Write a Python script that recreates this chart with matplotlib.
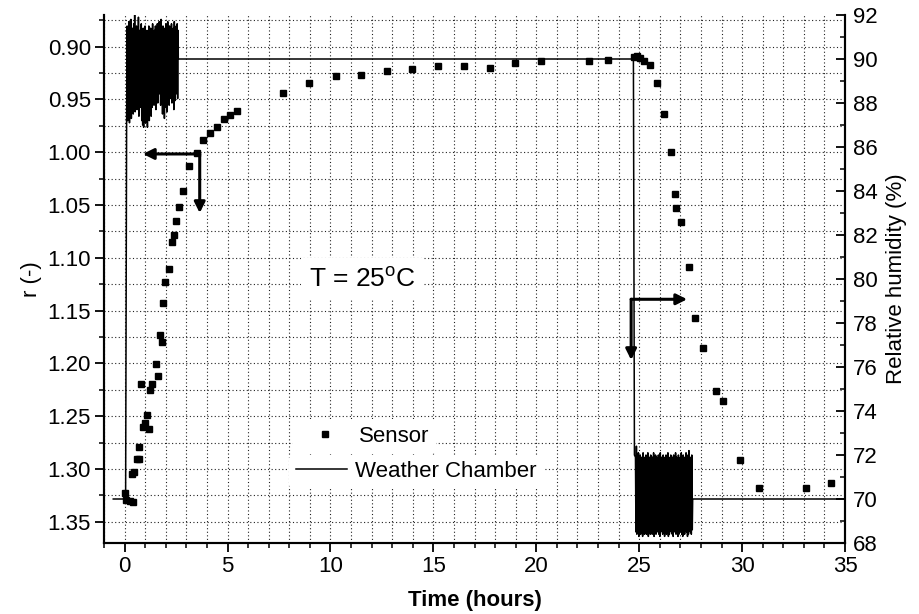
import numpy as np
import matplotlib
matplotlib.use("Agg")
import matplotlib.pyplot as plt
from matplotlib.ticker import MultipleLocator, FormatStrFormatter

plt.rcParams['font.family'] = ['Liberation Sans', 'DejaVu Sans']
plt.rcParams['mathtext.fontset'] = 'custom'
plt.rcParams['mathtext.rm'] = 'Liberation Sans'

# ---------------- data ----------------
sensor_t = [0.00, 0.08, 0.24, 0.34, 0.39, 0.47, 0.58, 0.68, 0.72, 0.81,
            0.91, 0.99, 1.07, 1.17, 1.23, 1.31, 1.51, 1.64, 1.70, 1.80,
            1.88, 1.96, 2.14, 2.29, 2.38, 2.48, 2.63, 2.82, 3.13, 3.50,
            3.83, 4.14, 4.48, 4.81, 5.14, 5.45, 7.70, 8.97, 10.25, 11.48,
            12.73, 13.98, 15.25, 16.48, 17.73, 18.99, 20.23, 22.55, 23.49, 24.74,
            24.90, 25.05, 25.22, 25.51, 25.86, 26.22, 26.54, 26.72, 26.81, 27.02,
            27.40, 27.72, 28.08, 28.74, 29.07, 29.89, 30.82, 33.10, 34.32]
sensor_r = [1.3229, 1.3293, 1.3300, 1.3049, 1.3312, 1.3031, 1.2902, 1.2902, 1.2794, 1.2191,
            1.2604, 1.2567, 1.2491, 1.2618, 1.2248, 1.2191, 1.2002, 1.2116, 1.1733, 1.1797,
            1.1424, 1.1229, 1.1105, 1.0850, 1.0780, 1.0648, 1.0515, 1.0369, 1.0127, 1.0010,
            0.9884, 0.9815, 0.9763, 0.9688, 0.9647, 0.9612, 0.9436, 0.9344, 0.9278, 0.9265,
            0.9230, 0.9211, 0.9186, 0.9183, 0.9199, 0.9152, 0.9133, 0.9133, 0.9126, 0.9095,
            0.9088, 0.9105, 0.9133, 0.9173, 0.9347, 0.9638, 0.9994, 1.0392, 1.0528, 1.0657,
            1.1086, 1.1572, 1.1856, 1.2261, 1.2355, 1.2914, 1.3176, 1.3179, 1.3135]

# weather chamber: steady parts
chamber_pre_t = [-0.55, 0.05]
chamber_pre_rh = [70.0, 70.0]
chamber_mid_t = [2.61, 24.72, 24.77]
chamber_mid_rh = [90.0, 90.0, 72.0]
chamber_end_t = [27.60, 35.0]
chamber_end_rh = [70.0, 70.0]

# oscillating (controller hunting) segments: successive minima / maxima
noise1_start, noise1_end = 0.10, 2.60
noise1_low = [87.4, 87.2, 88.0, 87.1, 87.6, 87.3, 88.2, 87.5, 87.9, 87.6,
              88.3, 87.7, 88.0, 87.4, 88.1, 87.8, 87.2, 87.0, 86.9, 87.3,
              87.1, 87.5, 86.9, 87.6, 87.2, 88.0, 87.4, 87.8, 88.2, 87.9,
              88.1, 87.7, 88.3, 88.0, 88.4, 88.6, 87.9, 88.2, 87.5, 88.0,
              87.3, 87.8, 88.1, 87.6, 88.4, 87.9, 88.2, 88.5, 88.0, 88.3,
              87.7, 88.1, 88.4, 88.6, 88.2]
noise1_high = [91.5, 90.8, 91.7, 91.2, 91.8, 90.6, 91.4, 91.6, 92.0, 91.1,
               91.5, 90.9, 91.9, 91.3, 91.0, 91.6, 90.7, 91.4, 91.2, 91.5,
               90.9, 91.3, 91.0, 91.5, 90.8, 91.4, 91.1, 91.6, 90.9, 91.3,
               91.5, 91.0, 91.6, 91.2, 91.7, 91.3, 91.8, 91.1, 91.5, 90.9,
               91.4, 91.6, 91.2, 91.7, 91.0, 91.5, 91.3, 91.6, 91.1, 91.4,
               91.7, 91.2, 91.5, 91.6, 91.3]
noise2_start, noise2_end = 24.82, 27.58
noise2_high = [71.9, 72.4, 71.8, 72.1, 71.7, 72.0, 71.9, 71.6, 72.1, 71.8,
               71.9, 72.0, 71.7, 72.1, 71.8, 71.9, 72.0, 71.7, 71.9, 72.1,
               71.8, 72.0, 71.9, 71.7, 72.0, 71.8, 72.1, 71.9, 71.8, 72.0,
               71.7, 71.9, 72.0, 71.8, 72.1, 71.9, 71.8, 72.0, 71.7, 71.9,
               72.0, 71.8, 72.1, 71.9, 71.8, 72.0, 71.7, 71.9, 72.1, 71.8,
               72.0, 71.9, 71.8, 72.1, 71.9, 72.0, 72.2, 71.8, 71.9, 72.0]
noise2_low = [68.5, 68.4, 68.6, 68.3, 68.5, 68.4, 68.6, 68.3, 68.5, 68.4,
              68.7, 68.4, 68.5, 68.3, 68.6, 68.4, 68.5, 68.4, 68.6, 68.3,
              68.5, 68.4, 68.6, 68.5, 68.4, 68.3, 68.5, 68.6, 68.4, 68.5,
              68.3, 68.6, 68.4, 68.5, 68.3, 68.4, 68.6, 68.5, 68.4, 68.3,
              68.5, 68.6, 68.4, 68.5, 68.3, 68.4, 68.6, 68.5, 68.4, 68.3,
              68.5, 68.4, 68.6, 68.5, 68.3, 68.4, 68.6, 68.5, 68.4, 68.6]

# ---------------- figure ----------------
fig = plt.figure(figsize=(9.19, 6.14), dpi=100)
ax = fig.add_axes([104/919, 71/614, 741/919, 528/614])
ax2 = ax.twinx()

noise1_rh = [v for pair in zip(noise1_low, noise1_high) for v in pair]
noise2_rh = [v for pair in zip(noise2_high, noise2_low) for v in pair]
noise1_t = np.linspace(noise1_start, noise1_end, len(noise1_rh))
noise2_t = np.linspace(noise2_start, noise2_end, len(noise2_rh))
chamber_t = list(chamber_pre_t) + list(noise1_t) + chamber_mid_t + list(noise2_t) + chamber_end_t
chamber_rh = chamber_pre_rh + noise1_rh + chamber_mid_rh + noise2_rh + chamber_end_rh

sensor_line, = ax.plot(sensor_t, sensor_r, linestyle='none', marker='s',
                       markersize=4.6, color='black', label='Sensor', zorder=3)
chamber_line, = ax2.plot(chamber_t, chamber_rh, color='black', lw=1.1,
                         label='Weather Chamber', zorder=2)

ax.set_xlim(-1, 35)
ax.set_ylim(1.37, 0.87)
ax2.set_ylim(68, 92)

ax.xaxis.set_major_locator(MultipleLocator(5))
ax.xaxis.set_minor_locator(MultipleLocator(1))
ax.yaxis.set_major_locator(MultipleLocator(0.05))
ax.yaxis.set_minor_locator(MultipleLocator(0.025))
ax.yaxis.set_major_formatter(FormatStrFormatter('%.2f'))
ax2.yaxis.set_major_locator(MultipleLocator(2))
ax2.yaxis.set_minor_locator(MultipleLocator(1))

ax.tick_params(axis='both', which='major', direction='out', length=6.5, width=1.3,
               labelsize=16, pad=3)
ax.tick_params(axis='both', which='minor', direction='out', length=3.5, width=1.1)
ax.tick_params(top=False, right=False, which='both')
ax2.tick_params(axis='y', which='major', direction='in', length=6.5, width=1.3,
                labelsize=16, pad=6)
ax2.tick_params(axis='y', which='minor', direction='in', length=3.5, width=1.1)

for a in (ax, ax2):
    for s in ('left', 'right', 'bottom'):
        a.spines[s].set_linewidth(1.5)
    a.spines['top'].set_visible(False)

ax.grid(True, which='both', axis='both', linestyle=(0, (1, 2.2)), lw=0.8, color='#222222')
ax.set_axisbelow(True)

ax.set_ylabel('r (-)', fontsize=16, labelpad=4)
ax2.set_ylabel('Relative humidity (%)', fontsize=16, labelpad=6)
ax.set_xlabel('Time (hours)', fontsize=16, fontweight='bold', labelpad=9)

arw = dict(arrowstyle='-|>', lw=2.2, color='black', mutation_scale=16,
           shrinkA=0, shrinkB=0)
ax.annotate('', xy=(0.89, 1.0016), xytext=(3.65, 1.0016), arrowprops=arw, zorder=4)
ax.annotate('', xy=(3.65, 1.0575), xytext=(3.65, 1.0016), arrowprops=arw, zorder=4)
ax.annotate('', xy=(27.33, 1.1392), xytext=(24.61, 1.1392), arrowprops=arw, zorder=4)
ax.annotate('', xy=(24.61, 1.1967), xytext=(24.61, 1.1392), arrowprops=arw, zorder=4)

ax2.text(0.349, 0.50, 'T = 25$^{\\mathrm{o}}$C', transform=ax2.transAxes,
         fontsize=19, ha='center', va='center', zorder=6,
         bbox=dict(facecolor='white', edgecolor='none', pad=6))

leg1 = ax2.legend(handles=[sensor_line], loc='center left',
                  bbox_to_anchor=(0.255, 0.202), fontsize=16, frameon=True,
                  handlelength=2.3, handletextpad=0.35, borderpad=0.3,
                  borderaxespad=0)
leg1.get_frame().set_edgecolor('none')
leg1.get_frame().set_facecolor('white')
leg1.get_frame().set_alpha(1.0)
ax2.add_artist(leg1)
leg2 = ax2.legend(handles=[chamber_line], loc='center left',
                  bbox_to_anchor=(0.250, 0.135), fontsize=16, frameon=True,
                  handlelength=2.3, handletextpad=0.35, borderpad=0.3,
                  borderaxespad=0)
leg2.get_frame().set_edgecolor('none')
leg2.get_frame().set_facecolor('white')
leg2.get_frame().set_alpha(1.0)

fig.savefig('out.png', dpi=100)
